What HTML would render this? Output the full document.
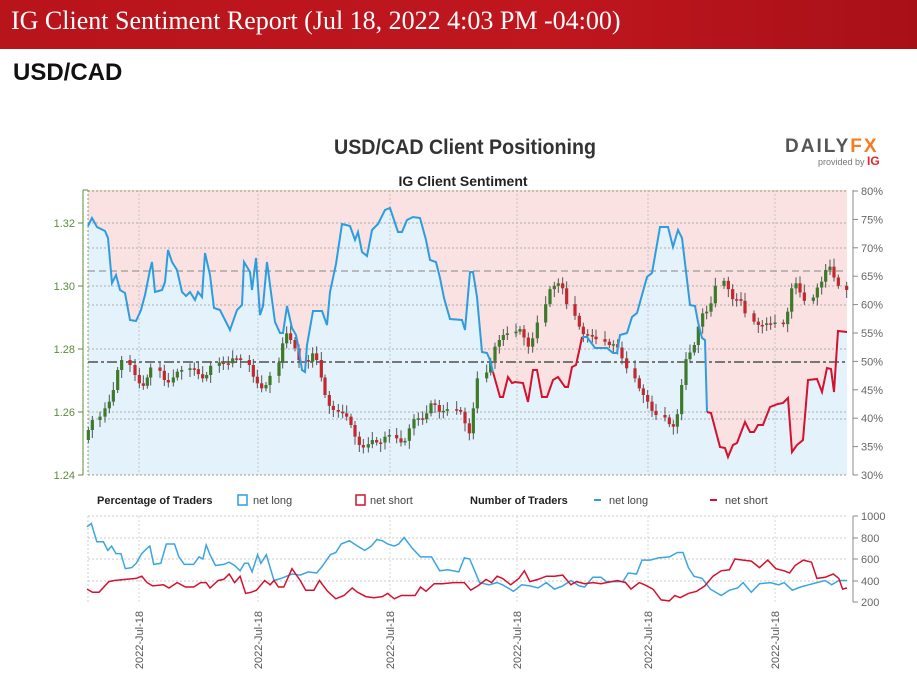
<!DOCTYPE html>
<html><head><meta charset="utf-8">
<style>
body{margin:0;width:917px;height:685px;background:#fff;overflow:hidden;font-family:"Liberation Sans",sans-serif;}
#hdr{position:absolute;left:0;top:0;width:917px;height:49px;background:linear-gradient(90deg,#b8141c,#c0161e 60%,#a81018);}
#hdr span{position:absolute;left:11px;top:6px;color:#fff;font-family:"Liberation Serif",serif;font-size:26px;}
#pair{position:absolute;left:13px;top:59px;font-size:24px;font-weight:bold;color:#111;}
svg{position:absolute;left:0;top:0;}
</style></head><body>
<div id="hdr"><span>IG Client Sentiment Report (Jul 18, 2022 4:03 PM -04:00)</span></div>
<div id="pair">USD/CAD</div>
<svg id="s" width="917" height="685" xmlns="http://www.w3.org/2000/svg" font-family="Liberation Sans, sans-serif">
<text x="334" y="154" textLength="262" lengthAdjust="spacingAndGlyphs" font-size="21" font-weight="bold" fill="#333">USD/CAD Client Positioning</text>
<text x="463" y="186" text-anchor="middle" font-size="14" font-weight="bold" fill="#222">IG Client Sentiment</text>
<text x="785" y="152" font-size="19" font-weight="bold" fill="#555" letter-spacing="2">DAILY<tspan fill="#f47c20">FX</tspan></text>
<text x="818" y="165" font-size="9" fill="#777">provided by <tspan fill="#e3262f" font-weight="bold" font-size="12">IG</tspan></text>
<g id="g"></g>
</svg>
<script>
(function(){
var NS="http://www.w3.org/2000/svg",g=document.getElementById('g');
function el(t,a,txt){var e=document.createElementNS(NS,t);for(var k in a)e.setAttribute(k,a[k]);if(txt)e.textContent=txt;g.appendChild(e);return e;}
var L=88,R=847,T=190,B=475;
el('rect',{x:L,y:T,width:R-L,height:B-T,fill:'#fbe2e2'});
var blue=[[88,226],[92,218],[97,227],[105,231],[108,238],[112,283],[116,275],[120,290],[125,293],[130,320],[136,321],[141,310],[145,295],[150,270],[152,262],[155,292],[162,290],[165,282],[168,250],[172,262],[177,270],[182,292],[186,296],[190,292],[195,300],[198,292],[202,297],[205,253],[210,275],[214,308],[220,310],[225,320],[230,330],[237,310],[242,305],[244,262],[250,272],[252,290],[256,258],[260,315],[263,306],[267,262],[272,300],[275,322],[280,333],[283,333],[287,306],[292,328],[296,335],[298,345],[302,370],[305,372],[307,345],[313,311],[322,311],[327,325],[330,292],[336,264],[342,224],[350,226],[355,240],[358,232],[362,252],[367,256],[372,230],[378,224],[385,210],[390,208],[393,217],[398,232],[402,232],[407,220],[413,217],[420,218],[426,240],[430,260],[436,262],[440,278],[444,298],[450,319],[462,320],[465,330],[470,272],[473,272],[477,297],[482,352],[487,353],[490,360],[493,372]];
var red1=[[493,372],[500,397],[503,397],[508,377],[512,383],[515,382],[523,383],[528,402],[533,370],[537,370],[542,397],[547,397],[553,380],[558,377],[565,387],[568,387],[572,367],[576,365],[580,347],[582,337]];
var blue2=[[582,337],[587,337],[595,348],[607,348],[613,353],[617,353],[620,335],[627,333],[632,317],[637,313],[642,295],[647,277],[652,273],[660,227],[668,227],[673,247],[678,230],[682,238],[690,305],[695,306],[698,322],[702,338],[705,340],[707,412]];
var red2=[[707,412],[711,413],[720,447],[725,448],[728,457],[733,445],[737,443],[745,422],[750,432],[754,432],[758,425],[763,425],[770,407],[778,404],[783,403],[788,398],[792,452],[797,445],[803,440],[808,380],[817,379],[822,392],[827,368],[831,369],[834,392],[838,331],[847,332]];
var all=blue.concat(red1,blue2,red2);
function pts(a){return a.map(function(p){return p[0]+','+p[1]}).join(' ');}
el('polygon',{points:L+','+B+' '+pts(all)+' '+R+','+B,fill:'#e3f2fb'});
[223,248,286,305,349,412,419].forEach(function(y){el('line',{x1:L,x2:R,y1:y,y2:y,stroke:'#9a9a9a','stroke-width':0.8,'stroke-dasharray':'2,2'});});
el('line',{x1:L,x2:R,y1:T+1,y2:T+1,stroke:'#6a8a4a','stroke-width':0.8,'stroke-dasharray':'2,2'});
el('line',{x1:L,x2:R,y1:B,y2:B,stroke:'#6a8a4a','stroke-width':0.8,'stroke-dasharray':'2,2'});
el('line',{x1:L,x2:L,y1:T,y2:B,stroke:'#6a8a4a','stroke-width':0.8,'stroke-dasharray':'2,2'});
[139,258,390,517,648,775].forEach(function(x){el('line',{x1:x,x2:x,y1:T,y2:B,stroke:'#bbb','stroke-width':0.8,'stroke-dasharray':'2,2'});});
el('line',{x1:L,x2:R,y1:271,y2:271,stroke:'#999','stroke-width':1.2,'stroke-dasharray':'7,4'});
el('line',{x1:L,x2:R,y1:362,y2:362,stroke:'#777','stroke-width':2,'stroke-dasharray':'10,3,3,3'});
var c2=[[85,780],[97,720],[120,720],[135,700],[148,670],[160,660],[173,600],[185,540],[210,540],[225,570],[238,600],[250,620],[262,615],[272,570],[300,555],[313,590],[325,610],[340,605],[352,580],[365,570],[390,570],[403,560],[415,575],[428,590],[440,600],[452,570],[478,545],[490,550],[505,550],[518,550],[530,520],[542,550],[568,530],[580,580],[592,600],[605,620],[618,630],[630,600],[657,575],[668,520],[680,460],[692,460],[705,500],[717,510],[745,570],[758,520],[770,520],[784,560],[795,625],[808,665],[820,690],[835,690],[848,700],[860,700],[873,720],[885,750],[898,790],[910,800],[925,805],[937,780],[950,780],[962,795],[975,780],[988,760],[1010,770],[1023,780],[1035,795],[1048,770],[1062,720],[1075,715],[1088,715],[1100,720],[1113,680],[1125,660],[1138,690],[1150,700],[1162,685],[1190,690]];
var c4=[[20,690],[32,690],[45,700],[58,760],[70,760],[82,610],[110,580],[122,575],[135,510],[148,490],[160,470],[172,460],[198,460],[210,450],[222,445],[235,500],[248,500],[262,450],[287,405],[300,340],[313,315],[325,320],[338,300],[350,350],[375,395],[388,420],[400,460],[413,465],[427,465],[438,475],[465,480],[478,490],[490,500],[503,485],[516,520],[530,550],[555,580],[568,610],[580,640],[593,650],[606,680],[618,705],[645,705],[658,720],[670,745],[682,735],[695,670],[708,560],[720,515],[733,520],[745,470],[758,410],[770,390],[783,400],[796,340],[822,295],[835,310],[848,345],[860,370],[873,345],[885,380],[912,420],[925,430],[937,440],[950,430],[962,430],[975,430],[1000,425],[1013,440],[1025,350],[1038,300],[1050,320],[1063,355],[1090,370],[1102,335],[1115,310],[1127,300],[1140,240],[1152,280],[1165,305],[1190,330]];
var cs=c2.map(function(p){return[p[0]/3+60,p[1]/3+180]}).filter(function(p){return p[0]<455}).concat(c4.map(function(p){return[p[0]/3+450,p[1]/3+180]}));
for(var i=0;i<cs.length;i++){var p=cs[i],prev=i>0?cs[i-1][1]:p[1],n=i<cs.length-1?cs[i+1][1]:p[1];
 var o=(prev+p[1])/2,c=(p[1]+n)/2;var up=c<o;var tp=Math.min(o,c),h=Math.max(Math.abs(o-c),1.5);
 var wt=tp-3-((i*7)%6),wb=tp+h+3+((i*5)%6);
 el('line',{x1:p[0],x2:p[0],y1:wt,y2:wb,stroke:'#555','stroke-width':1});
 el('rect',{x:p[0]-1.6,y:tp,width:3.2,height:h,fill:up?'#3d7a2a':'#c3282d'});}
el('polyline',{points:pts(blue),fill:'none',stroke:'#2d9de0','stroke-width':2});
el('polyline',{points:pts(red1),fill:'none',stroke:'#d4112e','stroke-width':2});
el('polyline',{points:pts(blue2),fill:'none',stroke:'#2d9de0','stroke-width':2});
el('polyline',{points:pts(red2),fill:'none',stroke:'#d4112e','stroke-width':2});
el('line',{x1:83,x2:83,y1:T,y2:B,stroke:'#5b8c3a','stroke-width':1});
[[1.32,223],[1.30,286],[1.28,349],[1.26,412],[1.24,475]].forEach(function(a){el('line',{x1:78,x2:83,y1:a[1],y2:a[1],stroke:'#5b8c3a'});el('text',{x:75,y:a[1]+4,'text-anchor':'end','font-size':11,fill:'#5b8c3a'},a[0].toFixed(2));});
el('line',{x1:83,x2:88,y1:T,y2:T,stroke:'#5b8c3a'});
el('line',{x1:853,x2:853,y1:T,y2:B,stroke:'#888','stroke-width':1});
for(var k=0;k<=10;k++){var v=80-5*k,y=191+k*28.4;el('line',{x1:853,x2:858,y1:y,y2:y,stroke:'#888'});el('text',{x:861,y:y+4,'font-size':11,fill:'#666'},v+'%');}
el('text',{x:97,y:504,'font-size':11,'font-weight':'bold',fill:'#222'},'Percentage of Traders');
el('rect',{x:238,y:495,width:9,height:10,fill:'none',stroke:'#2d9de0','stroke-width':1.5});
el('text',{x:253,y:504,'font-size':11,fill:'#444'},'net long');
el('rect',{x:356,y:495,width:9,height:10,fill:'none',stroke:'#d4112e','stroke-width':1.5});
el('text',{x:370,y:504,'font-size':11,fill:'#444'},'net short');
el('text',{x:470,y:504,'font-size':11,'font-weight':'bold',fill:'#222'},'Number of Traders');
el('line',{x1:594,x2:601,y1:500,y2:500,stroke:'#2d9de0','stroke-width':2});
el('text',{x:609,y:504,'font-size':11,fill:'#444'},'net long');
el('line',{x1:710,x2:717,y1:500,y2:500,stroke:'#d4112e','stroke-width':2});
el('text',{x:725,y:504,'font-size':11,fill:'#444'},'net short');
var bT=516,bB=602;function by(v){return 602-(v-200)*0.1075;}
[516,538,559,581].forEach(function(y){el('line',{x1:L,x2:R,y1:y,y2:y,stroke:'#bbb','stroke-width':0.8,'stroke-dasharray':'2,2'});});
[139,258,390,517,648,775].forEach(function(x){el('line',{x1:x,x2:x,y1:bT,y2:bB,stroke:'#ccc','stroke-width':0.8,'stroke-dasharray':'2,2'});
 el('text',{x:0,y:0,'font-size':11,fill:'#555','text-anchor':'end',transform:'translate('+(x+4)+',611) rotate(-90)'},'2022-Jul-18');});
el('line',{x1:L,x2:L,y1:bT,y2:bB,stroke:'#ccc','stroke-dasharray':'2,2'});
el('line',{x1:853,x2:853,y1:bT,y2:bB,stroke:'#888'});
[[1000,516],[800,538],[600,559],[400,581],[200,602]].forEach(function(a){el('line',{x1:853,x2:858,y1:a[1],y2:a[1],stroke:'#888'});el('text',{x:861,y:a[1]+4,'font-size':11,fill:'#666'},a[0]);});
var bl=[[50,900],[58,930],[68,760],[80,760],[88,680],[95,720],[103,650],[112,650],[120,510],[132,520],[140,560],[150,650],[160,700],[165,720],[172,550],[185,560],[195,740],[210,740],[218,620],[228,550],[245,550],[255,620],[262,600],[268,730],[275,640],[285,540],[300,550],[310,570],[320,540],[330,490],[338,560],[345,560],[352,480],[362,640],[368,560],[378,640],[392,400],[405,420],[425,460],[440,450],[455,480],[470,470],[480,530],[495,640],[505,660],[515,740],[530,770],[545,720],[558,680],[570,720],[580,780],[590,770],[600,740],[612,720],[620,740],[630,800],[645,700],[660,620],[680,620],[695,490],[710,500],[730,480],[740,610],[750,600],[768,380],[785,360],[800,380],[810,360],[830,300],[845,360],[860,350],[875,330],[890,380],[905,320],[920,350],[935,400],[950,350],[960,340],[975,430],[990,430],[1000,390],[1015,390],[1030,390],[1040,470],[1055,460],[1065,590],[1080,590],[1095,610],[1115,620],[1130,660],[1140,660],[1150,520],[1160,440],[1175,420],[1190,320],[1210,260],[1225,310],[1240,330],[1250,380],[1265,290],[1280,370],[1300,380],[1315,360],[1325,380],[1340,310],[1355,340],[1370,360],[1385,380],[1400,400],[1412,360],[1425,400],[1440,400]];
var rl=[[50,320],[60,290],[72,290],[90,390],[100,400],[120,410],[140,420],[150,440],[160,380],[170,350],[190,360],[200,330],[215,380],[230,340],[245,340],[258,380],[268,380],[275,330],[290,400],[300,410],[310,460],[320,380],[330,440],[340,280],[350,290],[360,310],[375,400],[385,360],[392,400],[400,340],[410,340],[425,510],[440,400],[450,310],[465,310],[475,400],[490,300],[505,230],[520,260],[535,330],[545,290],[560,250],[575,240],[590,250],[600,280],[612,230],[625,260],[640,260],[650,260],[660,340],[670,300],[685,370],[700,370],[720,380],[740,380],[752,310],[765,350],[780,410],[790,380],[800,440],[810,420],[825,360],[840,420],[850,490],[860,390],[875,410],[890,440],[905,440],[920,450],[935,360],[945,390],[960,370],[975,380],[990,370],[1000,380],[1020,400],[1035,380],[1045,320],[1060,380],[1070,360],[1085,320],[1100,220],[1115,210],[1125,260],[1135,240],[1150,280],[1165,300],[1180,350],[1195,440],[1210,490],[1225,500],[1235,600],[1250,590],[1265,580],[1280,520],[1295,590],[1310,510],[1325,490],[1335,470],[1345,540],[1360,590],[1375,570],[1385,420],[1400,430],[1415,460],[1425,420],[1432,320],[1440,330]];
function bp(a){return a.map(function(p){return (87+(p[0]-50)*(847-87)/1390).toFixed(1)+','+by(p[1]).toFixed(1)}).join(' ');}
el('polyline',{points:bp(bl),fill:'none',stroke:'#3ba5df','stroke-width':1.5});
el('polyline',{points:bp(rl),fill:'none',stroke:'#d4112e','stroke-width':1.5});
})();
</script>
</body></html>
